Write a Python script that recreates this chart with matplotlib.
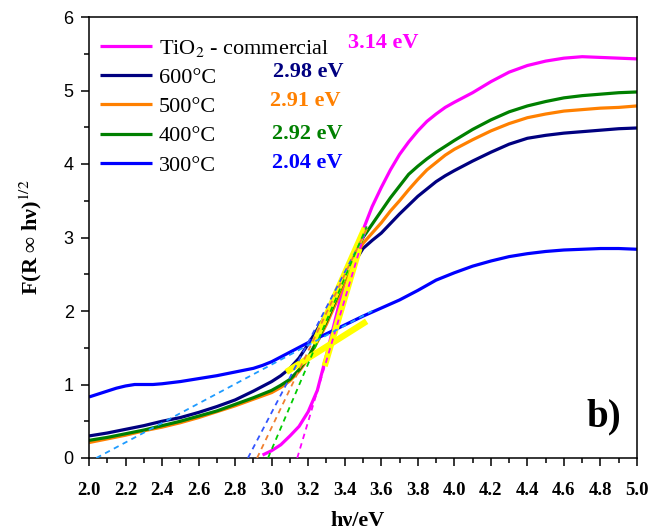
import matplotlib
matplotlib.use("Agg")
import matplotlib.pyplot as plt
from matplotlib.ticker import MultipleLocator

plt.rcParams['mathtext.fontset'] = 'stix'

# ---------------- data ----------------
labels = ['TiO$_2$ - commercial', '600°C', '500°C', '400°C', '300°C']
colors = ['#FF00FF', '#000080', '#FF8000', '#008000', '#0000FF']

x_tio2 = [2.95, 3.0, 3.05, 3.1, 3.15, 3.2, 3.25, 3.3, 3.35, 3.4, 3.45, 3.5, 3.55, 3.6,
          3.65, 3.7, 3.75, 3.8, 3.85, 3.9, 3.95, 4.0, 4.1, 4.2, 4.3, 4.4, 4.5, 4.6,
          4.7, 4.8, 4.9, 5.0]
y_tio2 = [0.04, 0.10, 0.18, 0.30, 0.43, 0.63, 0.92, 1.40, 1.90, 2.40, 2.80, 3.10, 3.42, 3.68,
          3.92, 4.13, 4.30, 4.45, 4.58, 4.68, 4.77, 4.84, 4.97, 5.12, 5.25, 5.34, 5.40, 5.44,
          5.46, 5.45, 5.44, 5.43]

x_std = [2.0, 2.1, 2.2, 2.3, 2.4, 2.5, 2.6, 2.7, 2.8, 2.9, 3.0, 3.05, 3.1, 3.15, 3.2,
         3.25, 3.3, 3.35, 3.4, 3.45, 3.5, 3.55, 3.6, 3.65, 3.7, 3.75, 3.8, 3.85, 3.9,
         3.95, 4.0, 4.1, 4.2, 4.3, 4.4, 4.5, 4.6, 4.7, 4.8, 4.9, 5.0]
y_600 = [0.30, 0.34, 0.39, 0.44, 0.50, 0.55, 0.62, 0.70, 0.79, 0.91, 1.04, 1.12, 1.22, 1.36, 1.55,
         1.75, 1.97, 2.20, 2.43, 2.65, 2.85, 2.96, 3.06, 3.19, 3.32, 3.44, 3.56, 3.66, 3.76,
         3.84, 3.91, 4.04, 4.16, 4.27, 4.35, 4.39, 4.42, 4.44, 4.46, 4.48, 4.49]
y_500 = [0.21, 0.26, 0.31, 0.37, 0.42, 0.48, 0.55, 0.63, 0.71, 0.80, 0.89, 0.96, 1.05, 1.18, 1.35,
         1.58, 1.82, 2.10, 2.40, 2.70, 2.92, 3.06, 3.20, 3.36, 3.50, 3.65, 3.79, 3.92, 4.02,
         4.12, 4.20, 4.33, 4.45, 4.55, 4.63, 4.68, 4.72, 4.74, 4.76, 4.77, 4.79]
y_400 = [0.24, 0.28, 0.33, 0.38, 0.44, 0.50, 0.57, 0.64, 0.73, 0.82, 0.92, 0.99, 1.07, 1.20, 1.37,
         1.60, 1.86, 2.15, 2.45, 2.75, 3.00, 3.18, 3.36, 3.54, 3.70, 3.86, 3.97, 4.07, 4.16,
         4.24, 4.32, 4.47, 4.60, 4.71, 4.79, 4.85, 4.90, 4.93, 4.95, 4.97, 4.98]

x_300 = [2.0, 2.05, 2.1, 2.15, 2.2, 2.25, 2.3, 2.35, 2.4, 2.5, 2.6, 2.7, 2.8, 2.9, 2.95,
         3.0, 3.1, 3.2, 3.3, 3.4, 3.5, 3.6, 3.7, 3.8, 3.9, 4.0, 4.1, 4.2, 4.3, 4.4,
         4.5, 4.6, 4.7, 4.8, 4.9, 5.0]
y_300 = [0.83, 0.87, 0.91, 0.95, 0.98, 1.00, 1.00, 1.00, 1.01, 1.04, 1.08, 1.12, 1.17, 1.22, 1.26,
         1.31, 1.44, 1.57, 1.69, 1.81, 1.93, 2.04, 2.15, 2.28, 2.42, 2.52, 2.61, 2.68, 2.74, 2.78,
         2.81, 2.83, 2.84, 2.85, 2.85, 2.84]

# tangent (extrapolation) dashed lines: start and end points
tan_x0 = [3.14, 2.87, 2.92, 2.98, 2.04]
tan_x1 = [3.52, 3.52, 3.52, 3.52, 3.55]
tan_y1 = [3.15, 3.10, 3.12, 3.15, 2.00]
tan_colors = ['#FF00FF', '#3355FF', '#F08030', '#00CC00', '#1E9BFF']

# yellow highlighted fit segments
hl_x = [[3.23, 3.51], [3.29, 3.48], [3.08, 3.52]]
hl_y = [[1.55, 3.13], [1.25, 2.85], [1.17, 1.86]]

gap_values = [3.14, 2.98, 2.91, 2.92, 2.04]
gap_text_x = [3.418, 3.007, 2.991, 3.002, 3.002]
gap_text_y = [5.646, 5.252, 4.857, 4.408, 4.014]

# ---------------- figure ----------------
fig = plt.figure(figsize=(6.5, 5.32), dpi=100)
ax = fig.add_axes([89/650, 74/532, 548/650, 441/532])

series = [(x_tio2, y_tio2), (x_std, y_600), (x_std, y_500), (x_std, y_400), (x_300, y_300)]
for (xs, ys), c, lab in zip(series, colors, labels):
    ax.plot(xs, ys, color=c, lw=2.3, label=lab, zorder=2, solid_capstyle='butt')

for xs, ys in zip(hl_x, hl_y):
    ax.plot(xs, ys, color='#FFFF00', lw=4.5, zorder=3, solid_capstyle='butt')

for x0, x1, y1, c in zip(tan_x0, tan_x1, tan_y1, tan_colors):
    ax.plot([x0, x1], [0, y1], color=c, lw=1.3, ls=(0, (3, 2.5)), zorder=4)

serif = 'Liberation Serif'
for v, tx, ty, c in zip(gap_values, gap_text_x, gap_text_y, colors):
    ax.text(tx, ty, f'{v:.2f} eV', color=c, fontsize=16, fontweight='bold',
            family=serif, va='center', ha='left')

ax.text(4.82, 0.56, 'b)', fontsize=28, fontweight='bold', family=serif,
        ha='center', va='center')

leg = ax.legend(loc='upper left', bbox_to_anchor=(0.0, 0.978), frameon=False,
                prop={'family': serif, 'size': 16}, handlelength=2.35,
                handletextpad=0.3, labelspacing=0.39, borderaxespad=0.3,
                borderpad=0.2)
for line in leg.get_lines():
    line.set_linewidth(2.3)

ax.set_xlim(2.0, 5.0)
ax.set_ylim(0, 6)
ax.xaxis.set_major_locator(MultipleLocator(0.2))
ax.xaxis.set_minor_locator(MultipleLocator(0.1))
ax.yaxis.set_major_locator(MultipleLocator(1))
ax.yaxis.set_minor_locator(MultipleLocator(0.5))
ax.tick_params(which='both', direction='out', width=1.1, top=False, right=False)
ax.tick_params(which='major', length=6)
ax.tick_params(which='minor', length=3.5)
ax.tick_params(axis='x', pad=11)
ax.tick_params(axis='y', pad=5)
ax.xaxis.set_major_formatter(plt.FuncFormatter(lambda v, p: f'{v:.1f}'))
for lab in ax.get_xticklabels():
    lab.set_fontfamily(serif)
    lab.set_fontweight('bold')
    lab.set_fontsize(13.5)
for lab in ax.get_yticklabels():
    lab.set_fontfamily('Liberation Sans')
    lab.set_fontsize(13)

for s in ax.spines.values():
    s.set_linewidth(1.1)

ax.set_xlabel('hν/eV', fontsize=16, fontweight='bold', family=serif)
ax.xaxis.set_label_coords(0.49, -0.12)
ax.set_ylabel('F(R ∞ hν)$^{1/2}$', fontsize=16, fontweight='bold', family=serif)
ax.yaxis.set_label_coords(-0.083, 0.5)

fig.savefig('out.png', dpi=100)
